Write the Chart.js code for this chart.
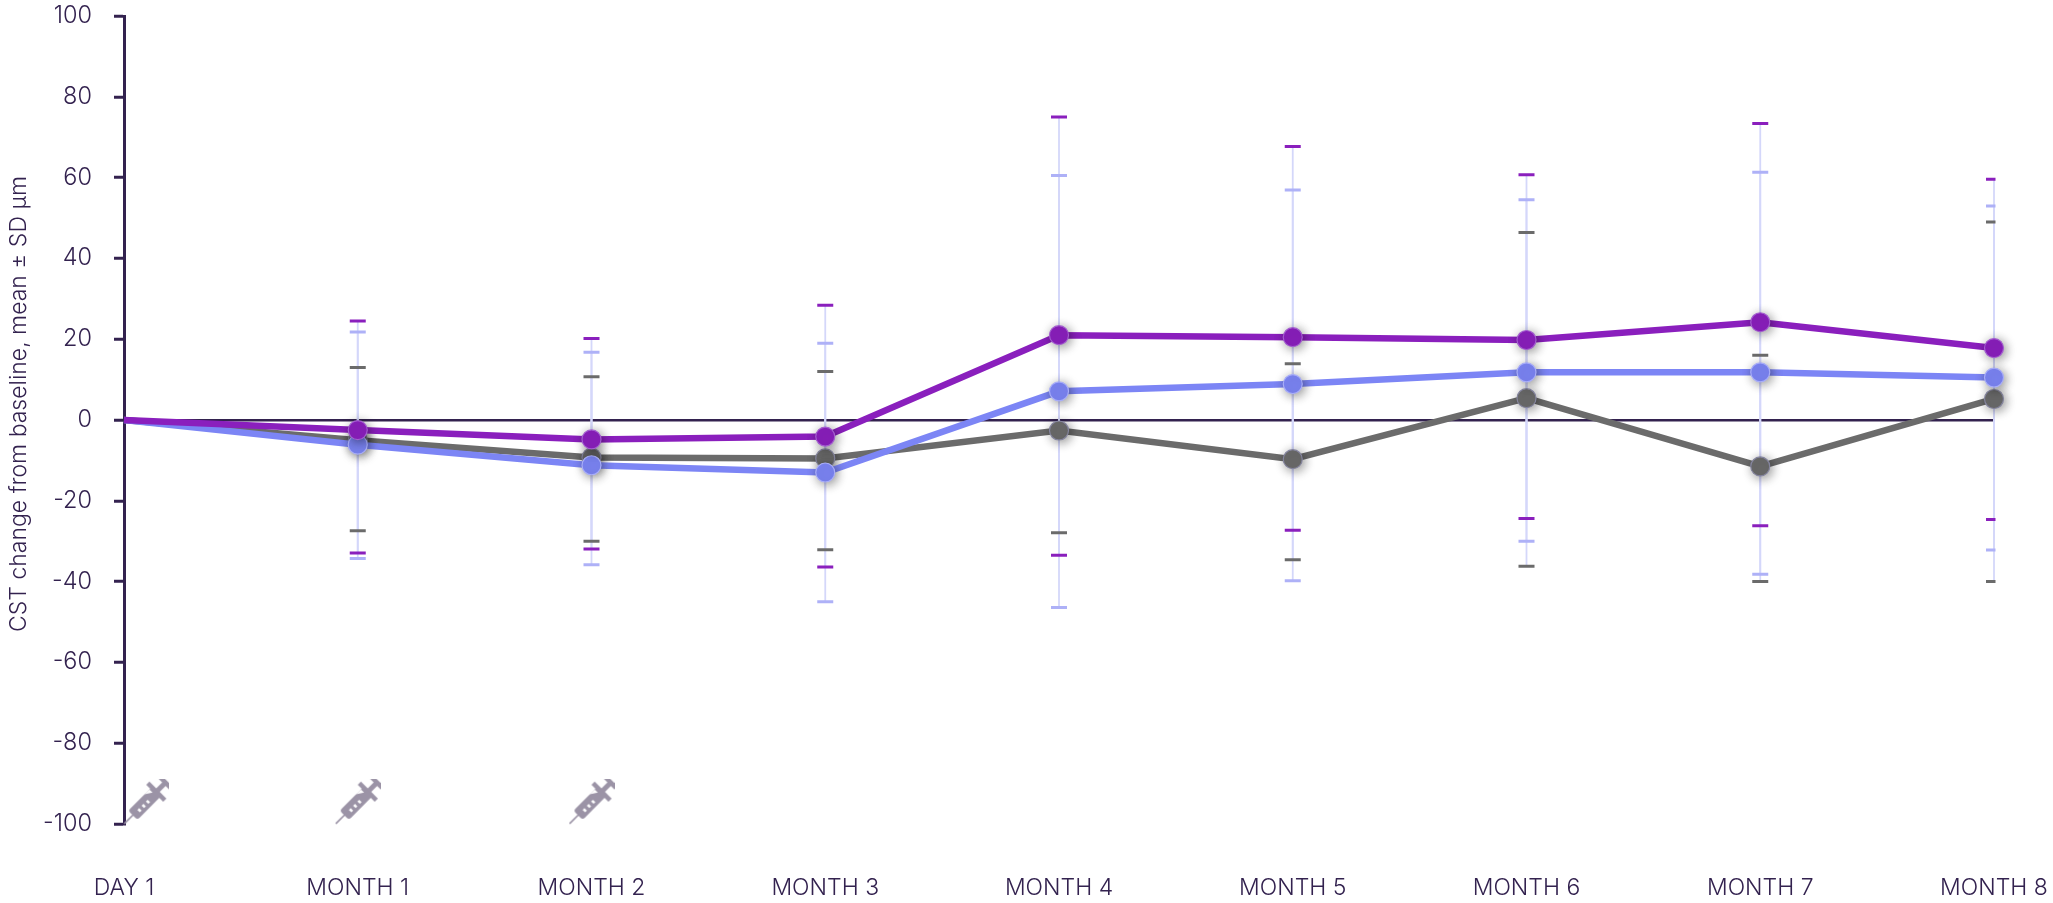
<!DOCTYPE html>
<html lang="en">
<head>
  <meta charset="UTF-8" />
  <title>CST change from baseline</title>
  <script src="https://cdn.jsdelivr.net/npm/chart.js@4"></script>
  <style>
    html, body { margin: 0; background: #fff; }
    #wrap { position: relative; width: 2053px; height: 903px; }
  </style>
</head>
<body>
  <div id="wrap"><canvas id="cstChart"></canvas></div>

  <script>
    const visits = ['DAY 1', 'MONTH 1', 'MONTH 2', 'MONTH 3', 'MONTH 4', 'MONTH 5', 'MONTH 6', 'MONTH 7', 'MONTH 8'];
    const yAxisTitle = 'CST change from baseline, mean ± SD µm';

    const purpleMean = [0, -2.5, -4.8, -4.1, 21, 20.5, 19.8, 24.2, 17.8];
    const purpleUpper = [null, 24.5, 20.2, 28.4, 75, 67.7, 60.7, 73.4, 59.6];
    const purpleLower = [null, -32.9, -31.9, -36.4, -33.5, -27.3, -24.4, -26.2, -24.6];

    const blueMean = [0, -6.1, -11.2, -13, 7.1, 8.9, 11.8, 11.8, 10.5];
    const blueUpper = [null, 21.8, 16.8, 19, 60.5, 56.9, 54.5, 61.3, 53];
    const blueLower = [null, -34.3, -35.8, -45, -46.4, -39.8, -30, -38.2, -32.2];

    const greyMean = [0, -5, -9.3, -9.5, -2.6, -9.7, 5.4, -11.5, 5.2];
    const greyUpper = [null, 13, 10.7, 12, 20, 13.9, 46.4, 16, 49];
    const greyLower = [null, -27.4, -30, -32.1, -27.9, -34.6, -36.2, -40, -40];

    // injections, x in months along the axis
    const injectionMonths = [0.095, 1, 2];
    const injectionLevel = [-94.5, -94.5, -94.5];

    const INK = '#33224f';
    const FONT = 'Inter, sans-serif';

    const series = [
      { color: '#8a1fbd', cap: '#8a1fbd', mean: purpleMean, upper: purpleUpper, lower: purpleLower, ring: '#a45fd0' },
      { color: '#7c85f5', cap: '#aeb1f7', mean: blueMean, upper: blueUpper, lower: blueLower, ring: '#a9aef8' },
      { color: '#6b6b6b', cap: '#6b6b6b', mean: greyMean, upper: greyUpper, lower: greyLower, ring: '#85859f' }
    ];

    // syringe icon used as a point style
    function makeSyringe() {
      const c = document.createElement('canvas');
      c.width = 46; c.height = 46;
      const g = c.getContext('2d');
      g.translate(23, 23);
      g.rotate(-Math.PI / 4);
      g.fillStyle = '#9b93a6';
      g.fillRect(-31, -0.8, 14, 1.6);       // needle
      g.beginPath();
      g.roundRect(-19, -6.5, 34, 13, 3);    // barrel
      g.fill();
      g.fillRect(12, -12, 4.5, 24);         // flange
      g.fillRect(16, -2.5, 12, 5);          // plunger
      g.fillRect(25, -9, 4.5, 18);          // thumb rest
      g.fillStyle = '#fff';
      [-12, -6, 0].forEach(x => g.fillRect(x, -0.5, 2.5, 3.5));
      g.beginPath();
      g.moveTo(4, -6.5); g.lineTo(11, -6.5); g.lineTo(11, -2);
      g.fill();
      return c;
    }

    // points in the reference carry a soft drop shadow
    const drawPoint = Chart.PointElement.prototype.draw;
    Chart.PointElement.prototype.draw = function (ctx, area) {
      ctx.save();
      if (typeof this.options.pointStyle === 'string') {
        ctx.shadowColor = 'rgba(0,0,0,0.45)';
        ctx.shadowBlur = 11;
        ctx.shadowOffsetX = 2;
        ctx.shadowOffsetY = 2;
      }
      drawPoint.call(this, ctx, area);
      ctx.restore();
    };

    const errorBars = {
      id: 'errorBars',
      beforeDatasetsDraw(chart) {
        const { ctx, chartArea, scales: { x, y } } = chart;
        ctx.save();
        ctx.beginPath();
        ctx.rect(0, 0, chartArea.right + 1.5, chart.height);
        ctx.clip();
        // whiskers first, caps on top of them
        ctx.strokeStyle = '#d4d7fa';
        ctx.lineWidth = 1.8;
        series.forEach(s => s.upper.forEach((u, i) => {
          if (u === null) return;
          ctx.beginPath();
          ctx.moveTo(x.getPixelForValue(i), y.getPixelForValue(u));
          ctx.lineTo(x.getPixelForValue(i), y.getPixelForValue(s.lower[i]));
          ctx.stroke();
        }));
        ctx.lineWidth = 3;
        [series[2], series[1], series[0]].forEach(s => {
          ctx.strokeStyle = s.cap;
          s.upper.forEach((u, i) => {
            if (u === null) return;
            [u, s.lower[i]].forEach(v => {
              const px = x.getPixelForValue(i), py = y.getPixelForValue(v);
              ctx.beginPath();
              ctx.moveTo(px - 8, py);
              ctx.lineTo(px + 8, py);
              ctx.stroke();
            });
          });
        });
        ctx.restore();
      }
    };

    const sideTitle = {
      id: 'sideTitle',
      afterDraw(chart) {
        const { ctx } = chart;
        ctx.save();
        ctx.translate(19, 404);
        ctx.rotate(-Math.PI / 2);
        ctx.font = '300 23px ' + FONT;
        ctx.fillStyle = INK;
        ctx.textAlign = 'center';
        ctx.textBaseline = 'middle';
        ctx.fillText(yAxisTitle, 0, 0);
        ctx.restore();
      }
    };

    const syringe = makeSyringe();

    new Chart(document.getElementById('cstChart'), {
      type: 'line',
      data: {
        datasets: series.map(s => ({
          data: s.mean.map((v, i) => ({ x: i, y: v })),
          borderColor: s.color,
          backgroundColor: s.color,
          borderWidth: 6.5,
          pointRadius: c => c.dataIndex === 0 ? 0 : 9.5,
          pointBackgroundColor: s.color,
          pointBorderColor: s.ring,
          pointBorderWidth: 1.2,
          tension: 0,
          clip: false
        })).concat([{
          data: injectionMonths.map((m, i) => ({ x: m, y: injectionLevel[i] })),
          showLine: false,
          pointStyle: syringe,
          clip: false
        }])
      },
      options: {
        responsive: true,
        maintainAspectRatio: false,
        animation: false,
        events: [],
        layout: { padding: { top: 16, right: 59, bottom: 0, left: 0 } },
        plugins: { legend: { display: false }, tooltip: { enabled: false } },
        scales: {
          x: {
            type: 'linear',
            min: 0,
            max: 8,
            border: { display: false },
            grid: { display: false },
            afterFit(scale) {
              scale.height = 79;
              scale.paddingLeft = 0;
              scale.paddingRight = 0;
            },
            ticks: {
              stepSize: 1,
              padding: 42,
              maxRotation: 0,
              autoSkip: false,
              color: INK,
              font: { family: FONT, size: 23, weight: '300' },
              callback: v => visits[v]
            }
          },
          y: {
            min: -100,
            max: 100,
            border: { display: true, color: INK, width: 3 },
            grid: {
              color: c => c.tick && c.tick.value === 0 ? INK : 'rgba(0,0,0,0)',
              lineWidth: 2.5,
              tickColor: INK,
              tickWidth: 3,
              tickLength: 10
            },
            afterFit(scale) {
              scale.width = 124;
              scale.paddingTop = 0;
              scale.paddingBottom = 0;
            },
            ticks: {
              stepSize: 20,
              padding: 22,
              color: INK,
              font: { family: FONT, size: 23.5, weight: '300' }
            }
          }
        }
      },
      plugins: [errorBars, sideTitle]
    });
  </script>
</body>
</html>
